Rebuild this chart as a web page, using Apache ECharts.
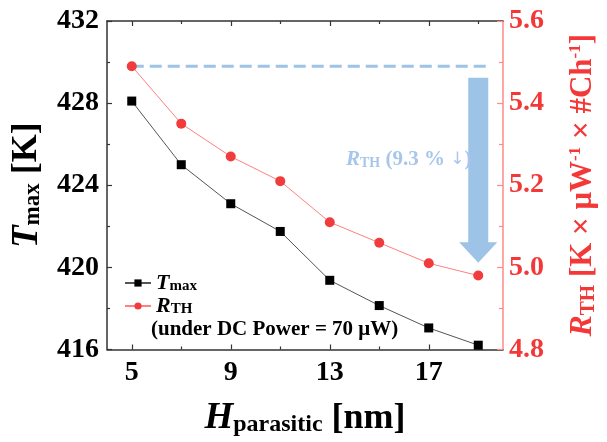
<!DOCTYPE html>
<html>
<head>
<meta charset="utf-8">
<script src="https://cdn.jsdelivr.net/npm/echarts@6/dist/echarts.min.js"></script>
<style>
  html, body { margin: 0; padding: 0; background: #fff; }
  #chart { width: 607px; height: 442px; }
</style>
</head>
<body>
<div id="chart"></div>
<script>
// Parasitic height sweep (nm)
const hParasitic = [5, 7, 9, 11, 13, 15, 17, 19];
// Peak temperature (K)
const tMax = [428.1, 425.0, 423.1, 421.75, 419.37, 418.14, 417.05, 416.21];
// Thermal resistance (K × µW⁻¹ × #Ch⁻¹)
const rTh = [5.49, 5.35, 5.27, 5.21, 5.11, 5.06, 5.01, 4.98];

// Axis tick values
const xMajorTicks = [5, 9, 13, 17];
const xMinorTicks = [7, 11, 15, 19];
const leftTicks = [416, 420, 424, 428, 432];
const rightTicks = [4.8, 5.0, 5.2, 5.4, 5.6];

// Reference level of R_TH at the first point and the drop arrow (x, top, head base, tip)
const rThLevel = [[5, 5.49], [19.45, 5.49]];
const dropArrow = [[19, 5.462, 5.061, 5.011]];

const FONT = 'Liberation Serif';
const RED = '#f43838';
const BLUE = '#9dc3e6';

const pairs = (xs, ys) => xs.map((x, i) => [x, ys[i]]);

const chart = echarts.init(document.getElementById('chart'), null, { renderer: 'canvas' });

const tickLabel = (color) => ({
  color: color, fontFamily: FONT, fontWeight: 'bold', fontSize: 28
});

const option = {
  animation: false,
  backgroundColor: '#fff',
  grid: { left: 107, right: 90, top: 21, bottom: 92 },
  legend: {
    orient: 'vertical',
    left: 119,
    top: 267,
    itemWidth: 26,
    itemHeight: 9,
    itemGap: 1,
    data: ['Tmax', 'RTH'],
    formatter: (name) => name === 'Tmax' ? '{i|T}{s|max}' : '{i|R}{s|TH}',
    textStyle: {
      color: '#000',
      rich: {
        i: { fontFamily: FONT, fontWeight: 'bold', fontStyle: 'italic', fontSize: 22, lineHeight: 22, color: '#000' },
        s: { fontFamily: FONT, fontWeight: 'bold', fontSize: 15, lineHeight: 8, verticalAlign: 'bottom', color: '#000' }
      }
    }
  },
  xAxis: [
    {
      type: 'value', position: 'bottom', min: 4, max: 20,
      name: '{i|H}{s|parasitic}{n| [nm]}',
      nameLocation: 'middle', nameGap: 51,
      nameTextStyle: {
        rich: {
          i: { fontFamily: FONT, fontWeight: 'bold', fontStyle: 'italic', fontSize: 37, lineHeight: 36, color: '#000' },
          s: { fontFamily: FONT, fontWeight: 'bold', fontSize: 24, lineHeight: 12, verticalAlign: 'bottom', color: '#000' },
          n: { fontFamily: FONT, fontWeight: 'bold', fontSize: 36, lineHeight: 36, color: '#000' }
        }
      },
      axisLine: { show: true, onZero: false, lineStyle: { color: '#333', width: 1.5 } },
      axisTick: { show: true, inside: true, length: 5, customValues: xMajorTicks, lineStyle: { color: '#333', width: 1.2 } },
      axisLabel: Object.assign({ customValues: xMajorTicks, margin: 9 }, tickLabel('#000')),
      splitLine: { show: false }
    },
    {
      type: 'value', position: 'top', min: 4, max: 20,
      axisLine: { show: true, onZero: false, lineStyle: { color: '#333', width: 1.5 } },
      axisTick: { show: true, inside: true, length: 5, customValues: xMajorTicks, lineStyle: { color: '#333', width: 1.2 } },
      axisLabel: { show: false },
      splitLine: { show: false }
    },
    {
      type: 'value', position: 'bottom', min: 4, max: 20,
      axisLine: { show: false },
      axisTick: { show: true, inside: true, length: 3, customValues: xMinorTicks, lineStyle: { color: '#333', width: 1.2 } },
      axisLabel: { show: false },
      splitLine: { show: false }
    },
    {
      type: 'value', position: 'top', min: 4, max: 20,
      axisLine: { show: false },
      axisTick: { show: true, inside: true, length: 3, customValues: xMinorTicks, lineStyle: { color: '#333', width: 1.2 } },
      axisLabel: { show: false },
      splitLine: { show: false }
    }
  ],
  yAxis: [
    {
      type: 'value', position: 'left',
      min: leftTicks[0], max: leftTicks[leftTicks.length - 1], interval: 4,
      name: '{i|T}{s|max}{n| [K]}',
      nameLocation: 'middle', nameRotate: 90, nameGap: 62,
      nameTextStyle: {
        rich: {
          i: { fontFamily: FONT, fontWeight: 'bold', fontStyle: 'italic', fontSize: 37, lineHeight: 36, color: '#000' },
          s: { fontFamily: FONT, fontWeight: 'bold', fontSize: 23, lineHeight: 12, verticalAlign: 'bottom', color: '#000' },
          n: { fontFamily: FONT, fontWeight: 'bold', fontSize: 36, lineHeight: 36, color: '#000' }
        }
      },
      axisLine: { show: true, onZero: false, lineStyle: { color: '#333', width: 1.5 } },
      axisTick: { show: true, inside: true, length: 5, lineStyle: { color: '#333', width: 1.2 } },
      minorTick: { show: true, splitNumber: 2, length: 3, lineStyle: { color: '#333', width: 1.2 } },
      axisLabel: Object.assign({ margin: 8 }, tickLabel('#000')),
      splitLine: { show: false }
    },
    {
      type: 'value', position: 'right',
      min: rightTicks[0], max: rightTicks[rightTicks.length - 1], interval: 0.2,
      name: '{i|R}{s|TH}{n| [K × μW}{p|-1}{n| × #Ch}{p|-1}{n|]}',
      nameLocation: 'middle', nameRotate: 90, nameGap: 64,
      nameTextStyle: {
        rich: {
          i: { fontFamily: FONT, fontWeight: 'bold', fontStyle: 'italic', fontSize: 32, lineHeight: 32, color: RED },
          s: { fontFamily: FONT, fontWeight: 'bold', fontSize: 21, lineHeight: 10, verticalAlign: 'bottom', color: RED },
          n: { fontFamily: FONT, fontWeight: 'bold', fontSize: 31, lineHeight: 32, color: RED },
          p: { fontFamily: FONT, fontWeight: 'bold', fontSize: 17, lineHeight: 12, verticalAlign: 'top', color: RED }
        }
      },
      axisLine: { show: true, onZero: false, lineStyle: { color: '#ff8a8a', width: 1.5 } },
      axisTick: { show: true, inside: true, length: 6, lineStyle: { color: '#ff8a8a', width: 1.2 } },
      minorTick: { show: true, splitNumber: 2, length: 4, lineStyle: { color: '#ff8a8a', width: 1.2 } },
      axisLabel: Object.assign({ margin: 6, formatter: (v) => v.toFixed(1) }, tickLabel(RED)),
      splitLine: { show: false }
    }
  ],
  series: [
    {
      name: 'level',
      type: 'line',
      xAxisIndex: 0, yAxisIndex: 1,
      data: rThLevel,
      symbol: 'none',
      silent: true,
      lineStyle: { color: BLUE, width: 3, type: [12, 6] },
      z: 1
    },
    {
      name: 'drop',
      type: 'custom',
      xAxisIndex: 0, yAxisIndex: 1,
      data: dropArrow,
      encode: { x: 0, y: [1, 2, 3] },
      silent: true,
      z: 1,
      renderItem: (params, api) => {
        const x = api.value(0);
        const top = api.coord([x, api.value(1)]);
        const base = api.coord([x, api.value(2)]);
        const tip = api.coord([x, api.value(3)]);
        const shaft = 10, head = 19;
        const cx = top[0];
        return {
          type: 'polygon',
          shape: {
            points: [
              [cx - shaft, top[1]], [cx + shaft, top[1]], [cx + shaft, base[1]],
              [cx + head, base[1]], [tip[0], tip[1]], [cx - head, base[1]],
              [cx - shaft, base[1]]
            ]
          },
          style: { fill: BLUE }
        };
      }
    },
    {
      name: 'Tmax',
      type: 'line',
      xAxisIndex: 0, yAxisIndex: 0,
      data: pairs(hParasitic, tMax),
      symbol: 'rect',
      symbolSize: 9,
      itemStyle: { color: '#000' },
      lineStyle: { color: '#555', width: 1 },
      z: 3
    },
    {
      name: 'RTH',
      type: 'line',
      xAxisIndex: 0, yAxisIndex: 1,
      data: pairs(hParasitic, rTh),
      symbol: 'circle',
      symbolSize: 10,
      itemStyle: { color: '#f03c3c' },
      lineStyle: { color: '#ff8080', width: 1 },
      z: 3
    }
  ],
  graphic: [
    {
      type: 'text',
      left: 346,
      top: 149,
      z: 10,
      style: {
        text: '{i|R}{s|TH}{n| (9.3 % }{a|↓}{n|)}',
        rich: {
          i: { fontFamily: FONT, fontWeight: 'bold', fontStyle: 'italic', fontSize: 21, lineHeight: 22, fill: '#a7c7ea' },
          s: { fontFamily: FONT, fontWeight: 'bold', fontSize: 14, lineHeight: 8, verticalAlign: 'bottom', fill: '#a7c7ea' },
          n: { fontFamily: FONT, fontWeight: 'bold', fontSize: 21, lineHeight: 22, fill: '#a7c7ea' },
          a: { fontFamily: 'DejaVu Sans', fontSize: 17, lineHeight: 22, fill: '#a7c7ea' }
        }
      }
    },
    {
      type: 'text',
      left: 151,
      top: 319,
      style: {
        text: '(under DC Power = 70 μW)',
        fontFamily: FONT, fontWeight: 'bold', fontSize: 21, fill: '#000'
      }
    }
  ]
};

chart.setOption(option);
</script>
</body>
</html>
